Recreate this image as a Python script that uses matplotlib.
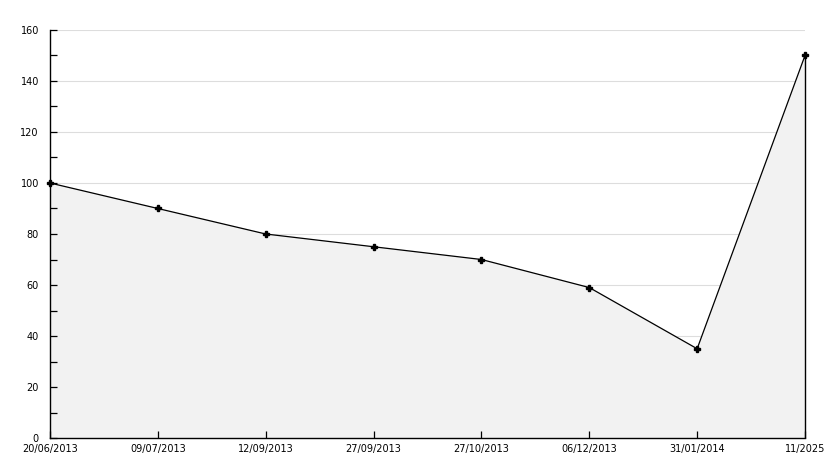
import matplotlib.pyplot as plt
import matplotlib.transforms as mtransforms
from matplotlib.ticker import MultipleLocator

# data
dates = ["20/06/2013", "09/07/2013", "12/09/2013", "27/09/2013",
         "27/10/2013", "06/12/2013", "31/01/2014", "11/2025"]
values = [100, 90, 80, 75, 70, 59, 35, 150]

plt.rcParams['font.family'] = 'DejaVu Sans'
plt.rcParams['font.size'] = 7

fig = plt.figure(figsize=(8.34, 4.68), dpi=100)
ax = fig.add_axes([50 / 834, 30 / 468, 755 / 834, 408 / 468])

x = list(range(len(values)))

# grid lines behind the filled area
for yv in range(20, 161, 20):
    ax.axhline(yv, color='#dddddd', lw=0.8, zorder=0)

ax.fill_between(x, values, 0, color='#f2f2f2', zorder=1)
ax.plot(x, values, color='black', lw=0.9, marker='P', markersize=5,
        zorder=3, clip_on=False)
ax.vlines(x[-1], 0, values[-1], color='black', lw=1, zorder=3, clip_on=False)

ax.set_xlim(0, len(values) - 1)
ax.set_ylim(0, 160)
ax.set_xticks(x)
ax.set_xticklabels(dates)
ax.yaxis.set_major_locator(MultipleLocator(20))
ax.yaxis.set_minor_locator(MultipleLocator(10))
ax.set_axisbelow(False)

ax.tick_params(axis='both', which='both', direction='in', length=5, width=0.9, colors='black')
ax.tick_params(axis='y', pad=8)
ax.tick_params(axis='x', pad=4)

for s in ['top', 'right']:
    ax.spines[s].set_visible(False)
ax.spines['left'].set_linewidth(1)
ax.spines['bottom'].set_linewidth(1)

# lift the "0" label a little so it sits above the first date
fig.canvas.draw()
zero_lbl = ax.get_yticklabels()[0]
zero_lbl.set_transform(zero_lbl.get_transform() +
                       mtransforms.ScaledTranslation(0, 3 / 100, fig.dpi_scale_trans))

fig.savefig('out.png', dpi=100)
